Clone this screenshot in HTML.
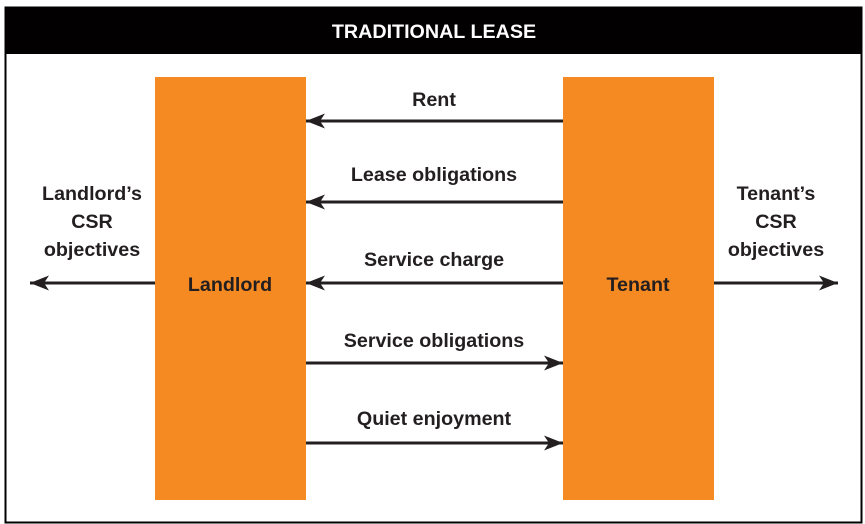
<!DOCTYPE html>
<html><head><style>
body{margin:0;background:#fff;}
svg{display:block;font-family:"Liberation Sans",sans-serif;font-weight:bold;}
</style></head><body>
<svg width="865" height="524" viewBox="0 0 865 524">
<defs>
<marker id="a" markerWidth="22" markerHeight="18" refX="19" refY="9" orient="auto" markerUnits="userSpaceOnUse">
<path d="M0,1.5 L19,9 L0,16.5 L5,9 Z" fill="#231f20"/>
</marker>
</defs>
<rect x="5.5" y="7.5" width="856" height="515" fill="#fff" stroke="#000" stroke-width="2"/>
<rect x="5" y="7" width="857" height="47" fill="#030002"/>
<text x="434" y="38" fill="#fff" font-size="19.7" text-anchor="middle">TRADITIONAL LEASE</text>
<rect x="155" y="77" width="151" height="423" fill="#f58a22"/>
<rect x="563" y="77" width="151" height="423" fill="#f58a22"/>
<g stroke="#231f20" stroke-width="3" marker-end="url(#a)">
<line x1="563" y1="121" x2="306" y2="121"/>
<line x1="563" y1="202" x2="306" y2="202"/>
<line x1="563" y1="283" x2="306" y2="283"/>
<line x1="306" y1="363" x2="563" y2="363"/>
<line x1="306" y1="443" x2="563" y2="443"/>
<line x1="155" y1="283" x2="30" y2="283"/>
<line x1="714" y1="283" x2="838" y2="283"/>
</g>
<g font-size="19.7" fill="#231f20" text-anchor="middle">
<text x="434" y="106">Rent</text>
<text x="434" y="181">Lease obligations</text>
<text x="434" y="266">Service charge</text>
<text x="434" y="347">Service obligations</text>
<text x="434" y="425">Quiet enjoyment</text>
<text x="230" y="291">Landlord</text>
<text x="638" y="291">Tenant</text>
<text x="92" y="200">Landlord’s</text>
<text x="92" y="228">CSR</text>
<text x="92" y="256">objectives</text>
<text x="776" y="200">Tenant’s</text>
<text x="776" y="228">CSR</text>
<text x="776" y="256">objectives</text>
</g>
</svg>
</body></html>
